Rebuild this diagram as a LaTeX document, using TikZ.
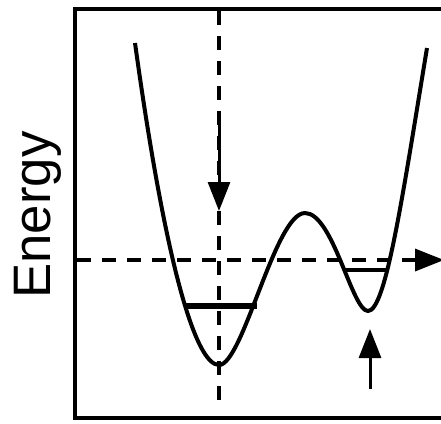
\documentclass[tikz,border=0pt]{standalone}
\usepackage{fontspec}
\setmainfont{Liberation Sans}
\usetikzlibrary{arrows.meta}

\begin{document}
\begin{tikzpicture}[
  x=0.2mm, y=-0.2mm,
  frame/.style = {line width=0.9mm},
  curve/.style = {line width=0.8mm, line join=round},
  guide/.style = {line width=0.7mm, dash pattern=on 2.8mm off 2.2mm},
  level/.style = {line width=1.1mm},
  shaft/.style = {line width=0.6mm},
  tip/.style   = {-{Triangle[length=5.8mm, width=4.4mm]}}
]
\useasboundingbox (0,0) rectangle (441,423);

% ---------------------------------------------------------------- il riquadro --
\draw[frame] (445,9) -- (75,9) -- (75,418) -- (445,418);
\node[rotate=90, anchor=base, font=\fontsize{30pt}{30pt}\selectfont]
  (elab) at (50,215) {Energy};

% -------------------------------------------------------------- le due guide --
\coordinate (vtop) at (219,11);
\coordinate (vbot) at (219,406);
\coordinate (hleft) at (77,260);
\coordinate (hright) at (444,260);
\draw[guide] (vtop) -- (vbot);
\draw[guide, tip] (hleft) -- (hright);

% ------------------------------------------------------------ la doppia buca --
\coordinate (ltop) at (135,43);
\coordinate (lmin) at (219,365);
\coordinate (bar)  at (305,213);
\coordinate (rmin) at (368,311);
\coordinate (rtop) at (427,48);
\draw[curve] (ltop) .. controls (165,260) and (195,365) .. (lmin)
                    .. controls (243,365) and (275,213) .. (bar)
                    .. controls (333,213) and (352,311) .. (rmin)
                    .. controls (386,311) and (403,193) .. (rtop);

% ------------------------------------------------------------------- livelli --
\coordinate (la) at (185,306);
\coordinate (lb) at (257,306);
\coordinate (ra) at (345,270);
\coordinate (rb) at (388,270);
\draw[level] (la) -- (lb);
\draw[curve] (ra) -- (rb);

% ------------------------------------------------------------------- frecce --
\coordinate (dfrom) at (219,112);
\coordinate (dto) at (219,211);
\coordinate (ufrom) at (370,389);
\coordinate (uto) at (370,329);
\draw[shaft, tip] (dfrom) -- (dto);
\draw[shaft, tip] (ufrom) -- (uto);

\end{tikzpicture}
\end{document}
